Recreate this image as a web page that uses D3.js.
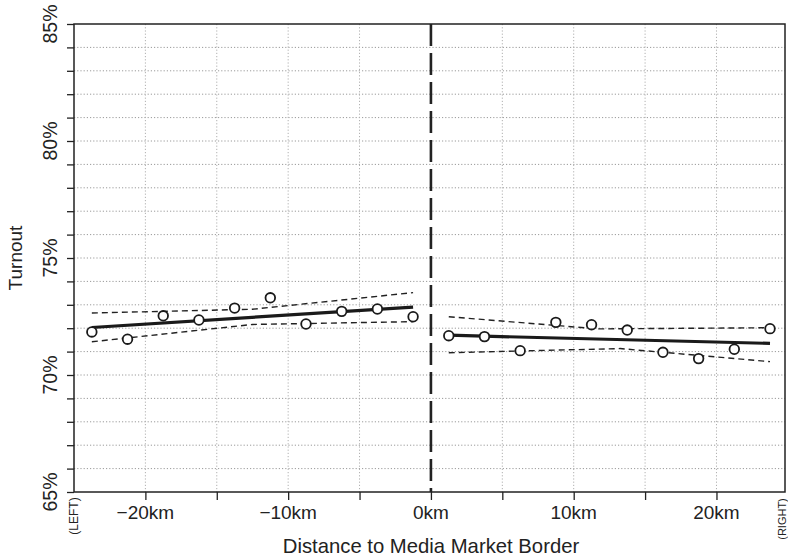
<!DOCTYPE html>
<html><head><meta charset="utf-8">
<script src="https://cdn.jsdelivr.net/npm/d3@7/dist/d3.min.js"></script>
<style>body{margin:0;background:#fff}svg{display:block}text{font-family:"Liberation Sans",Arial,Helvetica,sans-serif;fill:#222}</style>
</head><body>
<svg id="chart" width="788" height="557"></svg>
<script>
// Data
const leftKm = [-23.75, -21.25, -18.75, -16.25, -13.75, -11.25, -8.75, -6.25, -3.75, -1.25];
const leftTurnout = [71.84, 71.53, 72.53, 72.35, 72.86, 73.30, 72.18, 72.72, 72.82, 72.49];
const rightKm = [1.25, 3.75, 6.25, 8.75, 11.25, 13.75, 16.25, 18.75, 21.25, 23.75];
const rightTurnout = [71.68, 71.64, 71.04, 72.25, 72.15, 71.92, 70.97, 70.70, 71.10, 71.98];

const leftFitKm = [-23.75, -1.25];
const leftFit = [72.03, 72.90];
const leftBandKm = [-23.75, -12.5, -1.25];
const leftUpper = [72.65, 72.81, 73.52];
const leftLower = [71.42, 72.16, 72.28];

const rightFitKm = [1.25, 23.75];
const rightFit = [71.70, 71.35];
const rightUpperKm = [1.25, 11.75, 23.75];
const rightUpper = [72.49, 71.97, 72.02];
const rightLowerKm = [1.25, 13.25, 23.75];
const rightLower = [70.95, 71.13, 70.57];

const xTickValues = [-20, -15, -10, -5, 0, 5, 10, 15, 20];
const xLabelValues = [-20, -10, 0, 10, 20];
const yTickValues = d3.range(65, 85.01, 1);
const yLabelValues = [65, 70, 75, 80, 85];

const svg = d3.select("#chart");
const L = 74, R = 785, T = 24, B = 492;
const x = d3.scaleLinear().domain([-25, 24.8]).range([L, R]);
const y = d3.scaleLinear().domain([65, 85]).range([B, T]);

// gridlines
const grid = svg.append("g");
grid.selectAll(".hg").data(yTickValues.filter(v => v > 65 && v < 85)).join("line")
  .attr("x1", L).attr("x2", R).attr("y1", d => y(d)).attr("y2", d => y(d))
  .attr("stroke", "#9a9a9a").attr("stroke-width", 1).attr("stroke-dasharray", "1.2,2");
grid.selectAll(".vg").data(xTickValues.filter(v => v !== 0)).join("line")
  .attr("y1", T).attr("y2", B).attr("x1", d => x(d)).attr("x2", d => x(d))
  .attr("stroke", "#b0b0b0").attr("stroke-width", 1).attr("stroke-dasharray", "1.2,2");

// axes
const yAxis = d3.axisLeft(y).tickValues(yTickValues).tickSize(7).tickFormat("");
const gy = svg.append("g").attr("transform", `translate(${L},0)`).call(yAxis);
gy.select(".domain").remove();
gy.selectAll("line").attr("stroke", "#222").attr("stroke-width", 1.3);
const xAxis = d3.axisBottom(x).tickValues(xTickValues).tickSize(8).tickFormat("");
const gx = svg.append("g").attr("transform", `translate(0,${B})`).call(xAxis);
gx.select(".domain").remove();
gx.selectAll("line").attr("stroke", "#222").attr("stroke-width", 1.3);

// border
svg.append("rect").attr("x", L).attr("y", T).attr("width", R - L).attr("height", B - T)
  .attr("fill", "none").attr("stroke", "#222").attr("stroke-width", 1.5);

// y labels
svg.selectAll(".yl").data(yLabelValues).join("text")
  .attr("transform", d => `translate(57,${y(d)}) rotate(-90)`)
  .attr("text-anchor", "middle").attr("font-size", 19.5).text(d => d + "%");
// x labels
const fmtKm = d => (d < 0 ? "\u2212" + Math.abs(d) : d) + "km";
svg.selectAll(".xl").data(xLabelValues).join("text")
  .attr("x", d => x(d)).attr("y", 519).attr("text-anchor", "middle")
  .attr("font-size", 19).text(fmtKm);
// titles
svg.append("text").attr("transform", `translate(22,${(T + B) / 2}) rotate(-90)`)
  .attr("text-anchor", "middle").attr("font-size", 19).text("Turnout");
svg.append("text").attr("x", 431).attr("y", 553).attr("text-anchor", "middle")
  .attr("font-size", 20.3).text("Distance to Media Market Border");
svg.append("text").attr("transform", `translate(78,516) rotate(-90)`)
  .attr("text-anchor", "middle").attr("font-size", 12).text("(LEFT)");
svg.append("text").attr("transform", `translate(786,519) rotate(-90)`)
  .attr("text-anchor", "middle").attr("font-size", 11).text("(RIGHT)");

// cutoff line
svg.append("line").attr("x1", x(0)).attr("x2", x(0)).attr("y1", T).attr("y2", B)
  .attr("stroke", "#222").attr("stroke-width", 2.6).attr("stroke-dasharray", "22,7");

const line = d3.line().x(d => x(d[0])).y(d => y(d[1]));
const zip = (a, b) => a.map((v, i) => [v, b[i]]);
function band(k, v) {
  svg.append("path").attr("d", line(zip(k, v))).attr("fill", "none")
    .attr("stroke", "#222").attr("stroke-width", 1.4).attr("stroke-dasharray", "6,4");
}
band(leftBandKm, leftUpper); band(leftBandKm, leftLower);
band(rightUpperKm, rightUpper); band(rightLowerKm, rightLower);
function fit(k, v) {
  svg.append("path").attr("d", line(zip(k, v))).attr("fill", "none")
    .attr("stroke", "#1a1a1a").attr("stroke-width", 3.2);
}
fit(leftFitKm, leftFit); fit(rightFitKm, rightFit);

const pts = zip(leftKm, leftTurnout).concat(zip(rightKm, rightTurnout));
svg.selectAll(".pt").data(pts).join("circle")
  .attr("cx", d => x(d[0])).attr("cy", d => y(d[1])).attr("r", 4.8)
  .attr("fill", "#fff").attr("stroke", "#1a1a1a").attr("stroke-width", 1.8);
</script>
</body></html>
